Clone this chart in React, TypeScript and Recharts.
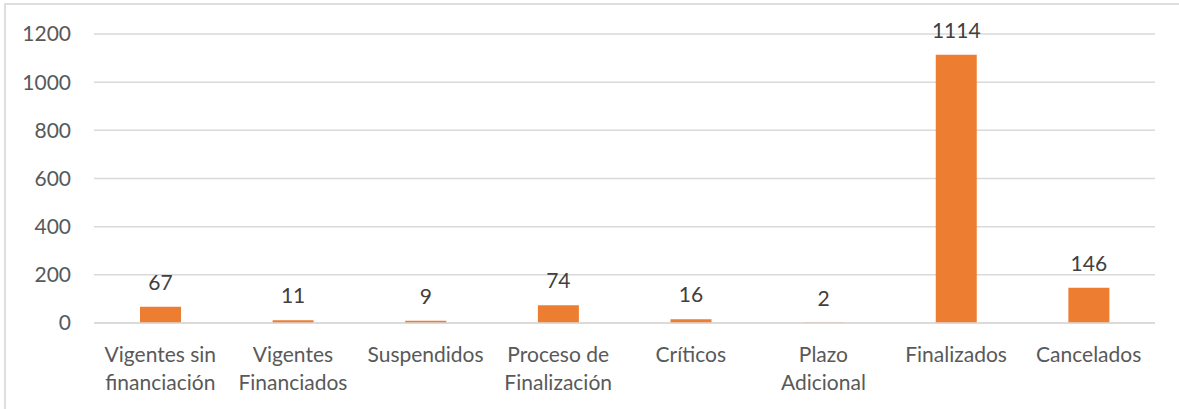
import { BarChart, Bar, XAxis, YAxis, CartesianGrid, LabelList } from "recharts";

const categories = [
  "Vigentes sin\nfinanciación",
  "Vigentes\nFinanciados",
  "Suspendidos",
  "Proceso de\nFinalización",
  "Críticos",
  "Plazo\nAdicional",
  "Finalizados",
  "Cancelados",
];

const values = [67, 11, 9, 74, 16, 2, 1114, 146];

const yTicks = [0, 200, 400, 600, 800, 1000, 1200];

const data = categories.map((name, i) => ({ name, value: values[i] }));

const FONT = "Lato, 'Open Sans', sans-serif";

function CategoryTick(props: any) {
  const { x, y, payload } = props;
  const lines = String(payload.value).split("\n");
  return (
    <text x={x} y={y + 39} textAnchor="middle" fill="#595959" fontSize={21} fontFamily={FONT}>
      {lines.map((line, i) => (
        <tspan key={i} x={x} dy={i === 0 ? 0 : 28}>
          {line}
        </tspan>
      ))}
    </text>
  );
}

export default function App() {
  return (
    <div
      style={{
        position: "absolute",
        left: 0,
        top: 0,
        width: 1179,
        height: 409,
        overflow: "hidden",
        background: "#ffffff",
      }}
    >
      {/* chart frame, cut off at right and bottom like the original */}
      <div
        style={{
          position: "absolute",
          left: 4,
          top: 3,
          width: 1250,
          height: 480,
          border: "2px solid #DEDEDE",
        }}
      />
      <BarChart
        width={1179}
        height={409}
        data={data}
        margin={{ top: 34, right: 24, left: 34, bottom: 0 }}
        style={{ position: "absolute", left: 0, top: 0 }}
      >
        <CartesianGrid vertical={false} stroke="#D9D9D9" strokeWidth={1.5} />
        <XAxis
          dataKey="name"
          height={86}
          interval={0}
          axisLine={{ stroke: "#D9D9D9", strokeWidth: 1.5 }}
          tickLine={false}
          tickSize={0}
          tickMargin={0}
          tick={<CategoryTick />}
        />
        <YAxis
          width={60}
          domain={[0, 1200]}
          ticks={yTicks}
          axisLine={false}
          tickLine={false}
          tickSize={0}
          tickMargin={23}
          tick={{ fill: "#595959", fontSize: 21, fontFamily: FONT }}
        />
        <Bar dataKey="value" fill="#ED7D31" barSize={41} isAnimationActive={false}>
          <LabelList
            dataKey="value"
            position="top"
            offset={17}
            fill="#404040"
            fontSize={21}
            fontFamily={FONT}
          />
        </Bar>
      </BarChart>
    </div>
  );
}
